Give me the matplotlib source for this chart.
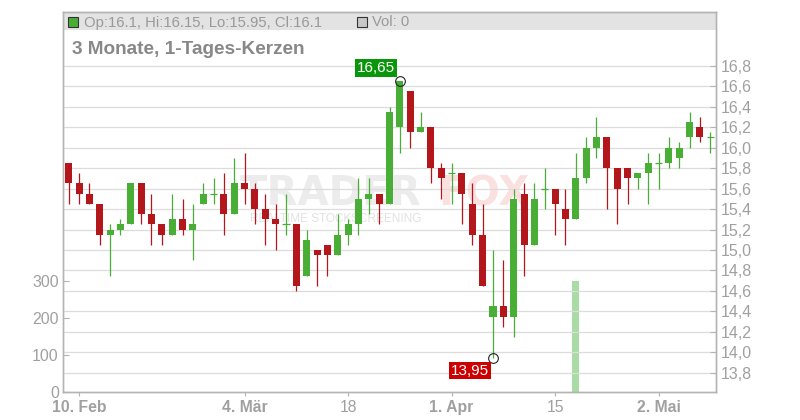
import matplotlib
matplotlib.use('Agg')
import matplotlib.pyplot as plt
from matplotlib.patches import Rectangle
from matplotlib.ticker import FuncFormatter, FixedLocator

plt.rcParams['font.family'] = ['Liberation Sans', 'DejaVu Sans']

# ---- data (index 0 = 7 Feb, last = 9 May; trading days) ----
opens = [15.85, 15.65, 15.55, 15.45, 15.15, 15.2, 15.25, 15.65, 15.35, 15.25,
         15.15, 15.3, 15.2, 15.45, 15.55, 15.55, 15.35, 15.65, 15.6, 15.4,
         15.3, 15.25, 15.25, 14.75, 15.0, 15.05, 14.95, 15.15, 15.25, 15.5,
         15.55, 15.45, 16.2, 16.55, 16.15, 16.2, 15.8, 15.75, 15.75, 15.45,
         15.15, 14.35, 14.45, 14.35, 15.55, 15.05, 15.6, 15.6, 15.4, 15.3,
         15.7, 16.0, 16.1, 15.8, 15.8, 15.7, 15.75, 15.85, 15.85, 15.9,
         16.1, 16.2, 16.1]
highs = [15.85, 15.75, 15.65, 15.45, 15.25, 15.3, 15.65, 15.65, 15.55, 15.25,
         15.55, 15.5, 15.45, 15.65, 15.7, 15.75, 15.9, 15.95, 15.65, 15.55,
         15.45, 15.55, 15.25, 15.2, 15.0, 15.05, 15.35, 15.3, 15.7, 15.7,
         15.55, 16.4, 16.65, 16.55, 16.35, 16.2, 15.85, 15.85, 15.75, 15.65,
         15.45, 15.0, 14.9, 15.6, 15.65, 15.65, 15.8, 15.6, 15.6, 15.95,
         16.1, 16.3, 16.1, 15.8, 15.8, 15.75, 15.95, 15.95, 16.1, 16.05,
         16.35, 16.3, 16.15]
lows = [15.45, 15.45, 15.45, 15.05, 14.75, 15.15, 15.25, 15.25, 15.05, 15.05,
        15.15, 15.15, 14.9, 15.45, 15.45, 15.15, 15.35, 15.45, 15.25, 15.05,
        15.0, 15.15, 14.6, 14.75, 14.65, 14.75, 14.95, 15.05, 15.15, 15.35,
        15.25, 15.45, 15.95, 16.0, 16.15, 15.65, 15.5, 15.45, 15.25, 15.05,
        14.65, 13.95, 14.25, 14.15, 14.75, 15.05, 15.4, 15.15, 15.05, 15.3,
        15.65, 15.9, 15.4, 15.25, 15.45, 15.6, 15.45, 15.6, 15.8, 15.8,
        16.0, 16.05, 15.95]
closes = [15.65, 15.55, 15.45, 15.15, 15.2, 15.25, 15.65, 15.35, 15.25, 15.15,
          15.3, 15.2, 15.25, 15.55, 15.55, 15.35, 15.65, 15.6, 15.4, 15.3,
          15.25, 15.25, 14.65, 15.1, 14.95, 14.95, 15.15, 15.25, 15.5, 15.55,
          15.45, 16.35, 16.65, 16.15, 16.2, 15.8, 15.7, 15.75, 15.55, 15.15,
          14.65, 14.45, 14.35, 15.5, 15.05, 15.5, 15.6, 15.45, 15.3, 15.7,
          16.0, 16.1, 15.8, 15.6, 15.7, 15.75, 15.85, 15.85, 16.0, 16.0,
          16.25, 16.1, 16.1]
volumes = [0] * 49 + [300] + [0] * 13

tick_idx = [1, 17, 27, 37, 47, 57]
tick_labels = ['10. Feb', '4. Mär', '18', '1. Apr', '15', '2. Mai']
tick_bold = [True, True, False, True, False, True]
price_ticks = [13.8, 14.0, 14.2, 14.4, 14.6, 14.8, 15.0, 15.2, 15.4, 15.6,
               15.8, 16.0, 16.2, 16.4, 16.6, 16.8]
vol_ticks = [0, 100, 200, 300]

GREEN = '#48ae36'
RED = '#b3171b'
GRID = '#dcdcdc'
SPINE = '#b4b4b4'
TXT = '#a0a0a0'

W, H = 800, 420
fig = plt.figure(figsize=(8, 4.2), dpi=100)
L, R, B, T = 63, 716, 392, 11.7
ax_v = fig.add_axes([L / W, 1 - B / H, (R - L) / W, (B - T) / H])
ax = ax_v.twinx()

n = len(opens)
x = list(range(n))

# volume
ax_v.bar(x, volumes, width=0.66, color='#a9dba5', zorder=2)
ax_v.set_ylim(0, 1025)
ax_v.yaxis.set_major_locator(FixedLocator(vol_ticks))
ax_v.tick_params(axis='y', direction='in', length=4, width=0.8, color=SPINE,
                 labelcolor=TXT, labelsize=11.5, pad=3)
ax_v.set_xlim(-0.55, 62.55)

# header band
band_y = (B - 30) / (B - T)
ax_v.add_patch(Rectangle((0, band_y), 1, 1 - band_y, transform=ax_v.transAxes,
                         facecolor='#e3e3e3', edgecolor='none', zorder=0))

# watermark
ax_v.text(240 / W, 1 - 205 / H, 'TRADER', transform=fig.transFigure,
          family='DejaVu Sans', fontweight='bold', fontsize=29, color='#ececec',
          ha='left', va='baseline', zorder=1)
ax_v.text(438 / W, 1 - 205 / H, 'FOX', transform=fig.transFigure,
          family='DejaVu Sans', fontweight='bold', fontsize=29, color='#fbe0e0',
          ha='left', va='baseline', zorder=1)
ax_v.text(250 / W, 1 - 222 / H, 'REALTIME STOCKSCREENING', transform=fig.transFigure,
          fontsize=8.5, color='#e2e2e2', ha='left', va='baseline', zorder=1)

# candles
colors = [GREEN if c >= o else RED for o, c in zip(opens, closes)]
ax.vlines(x, lows, highs, colors=colors, linewidth=0.9, zorder=3)
bw = 0.68
body_h = [abs(c - o) for o, c in zip(opens, closes)]
body_b = [min(o, c) for o, c in zip(opens, closes)]
ax.bar(x, body_h, bottom=body_b, width=bw, color=colors, zorder=4, linewidth=0)
doji = [i for i in x if opens[i] == closes[i]]
ax.hlines([opens[i] for i in doji], [i - bw / 2 for i in doji],
          [i + bw / 2 for i in doji], colors=[colors[i] for i in doji],
          linewidth=0.9, zorder=4)

ax.set_ylim(13.6135, 17.327)
ax.set_xlim(-0.55, 62.55)
ax.yaxis.set_major_locator(FixedLocator(price_ticks))
ax.yaxis.set_major_formatter(FuncFormatter(lambda v, p: f'{v:.1f}'.replace('.', ',')))
ax.tick_params(axis='y', direction='in', length=4, width=0.8, color=SPINE,
               labelcolor=TXT, labelsize=11.5, pad=3.5)
ax.set_axisbelow(True)
ax.grid(True, color=GRID, linewidth=0.9)

ax_v.set_xticks(tick_idx)
ax_v.set_xticklabels(tick_labels)
ax_v.tick_params(axis='x', direction='out', length=3, width=0.8, color=SPINE,
                 labelcolor=TXT, labelsize=11.3, pad=2.5)
for lbl, b in zip(ax_v.get_xticklabels(), tick_bold):
    lbl.set_fontweight('bold' if b else 'normal')
ax.tick_params(axis='x', length=0)

for a in (ax, ax_v):
    for s in a.spines.values():
        s.set_color(SPINE)
        s.set_linewidth(1.0)

# high / low markers
hi_i = highs.index(max(highs))
lo_i = lows.index(min(lows))
ax.plot([hi_i], [highs[hi_i]], 'o', ms=7, mfc='none', mec='#222222', mew=0.8, zorder=6)
ax.plot([lo_i], [lows[lo_i]], 'o', ms=7, mfc='none', mec='#222222', mew=0.8, zorder=6)
ax.annotate(f'{highs[hi_i]:.2f}'.replace('.', ','), xy=(hi_i, highs[hi_i]),
            xytext=(-5, 6), textcoords='offset pixels', ha='right', va='bottom',
            color='white', fontsize=11,
            bbox=dict(boxstyle='square,pad=0.12', fc='#0a960a', ec='none'), zorder=7)
ax.annotate(f'{lows[lo_i]:.2f}'.replace('.', ','), xy=(lo_i, lows[lo_i]),
            xytext=(-4, -6), textcoords='offset pixels', ha='right', va='top',
            color='white', fontsize=11,
            bbox=dict(boxstyle='square,pad=0.12', fc='#cc0000', ec='none'), zorder=7)

# header texts
fig.patches.append(Rectangle((68.3 / W, 1 - 26.7 / H), 10 / W, 10 / H,
                             transform=fig.transFigure, facecolor='#48ae36',
                             edgecolor='#333333', linewidth=0.8, zorder=5))
fig.text(84 / W, 1 - 26.5 / H,
         f'Op:{opens[-1]:g}, Hi:{highs[-1]:g}, Lo:{lows[-1]:g}, Cl:{closes[-1]:g}',
         fontsize=10.7, color='#999999', ha='left', va='baseline')
fig.patches.append(Rectangle((357 / W, 1 - 26.7 / H), 10 / W, 10 / H,
                             transform=fig.transFigure, facecolor='#c8c8c8',
                             edgecolor='#333333', linewidth=0.8, zorder=5))
fig.text(372 / W, 1 - 26.5 / H, f'Vol: {volumes[-1]}', fontsize=10.7,
         color='#999999', ha='left', va='baseline')
fig.text(72 / W, 1 - 54.5 / H, '3 Monate, 1-Tages-Kerzen', fontsize=13.7,
         fontweight='bold', color='#888888', ha='left', va='baseline')

fig.savefig('out.png', dpi=100)
